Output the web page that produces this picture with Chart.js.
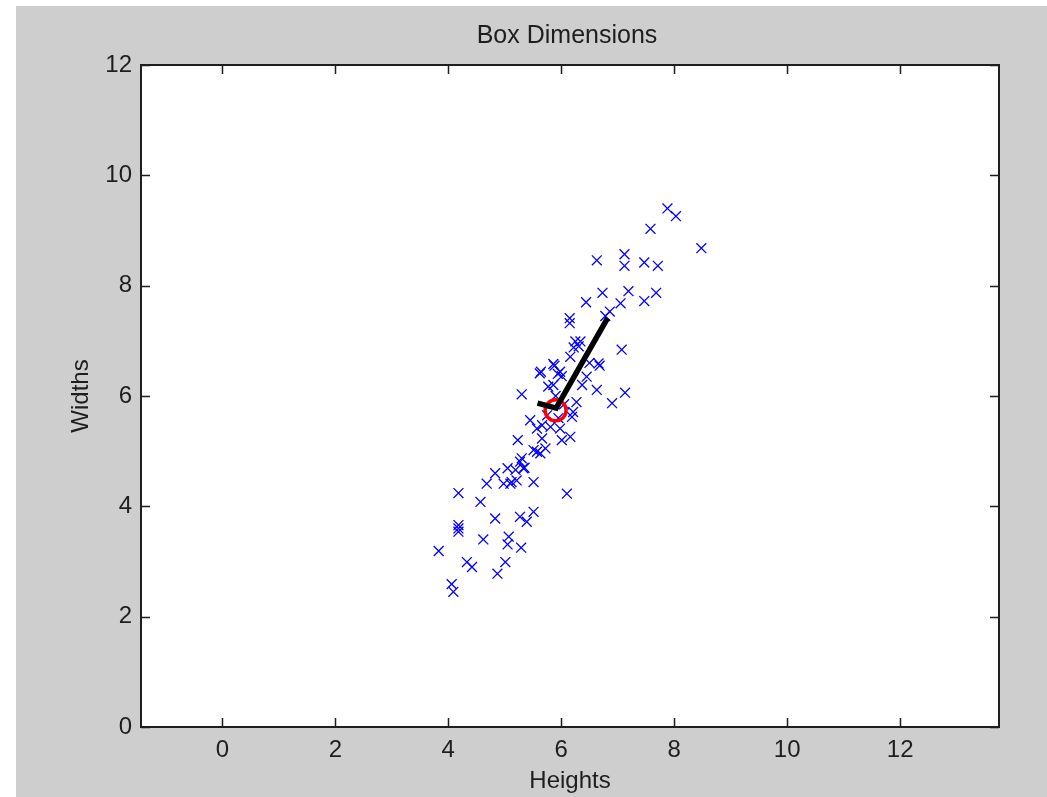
<!DOCTYPE html>
<html>
<head>
<meta charset="utf-8">
<title>Box Dimensions</title>
<script src="https://cdn.jsdelivr.net/npm/chart.js@4.4.1/dist/chart.umd.min.js"></script>
<style>
  html, body { margin: 0; padding: 0; background: #ffffff; }
  #wrap { position: absolute; left: 16px; top: 6px; width: 1031px; height: 791px; background: #cecece; }
</style>
</head>
<body>
<div id="wrap"><canvas id="boxChart" width="1031" height="791"></canvas></div>
<script>
const heights = [7.88, 8.03, 7.58, 8.48, 6.63, 7.12, 7.12, 7.47, 7.71, 6.73, 7.19, 7.68, 6.44, 7.47, 7.05,
  6.86, 6.15, 6.15, 6.78, 6.25, 6.34, 6.31, 6.22, 6.16, 7.07, 5.86, 5.88, 5.64, 5.98, 6.66, 6.68, 6.01,
  5.62, 5.94, 5.86, 5.77, 6.37, 6.63, 7.13, 5.30, 6.90, 6.27, 6.21, 6.19, 5.45, 5.57, 5.66, 5.81, 5.98,
  6.16, 6.01, 5.66, 5.23, 5.72, 5.51, 5.63, 5.30, 5.57, 5.27, 5.05, 4.83, 5.19, 5.33, 5.10, 5.12, 5.21,
  4.98, 4.68, 5.51, 4.18, 6.10, 4.57, 4.83, 5.51, 5.27, 5.39, 4.18, 4.18, 4.18, 4.62, 5.07, 5.05, 5.29,
  3.83, 4.33, 4.42, 5.01, 4.87, 4.06, 4.09, 5.95, 5.75, 6.05, 5.90, 5.35, 6.45, 6.50];
const widths = [9.40, 9.26, 9.03, 8.68, 8.46, 8.57, 8.36, 8.42, 8.36, 7.87, 7.90, 7.87, 7.70, 7.72, 7.68,
  7.53, 7.41, 7.32, 7.45, 6.99, 6.99, 6.90, 6.88, 6.71, 6.84, 6.58, 6.55, 6.44, 6.44, 6.59, 6.55, 6.36,
  6.41, 6.40, 6.20, 6.17, 6.20, 6.11, 6.06, 6.03, 5.87, 5.89, 5.71, 5.62, 5.56, 5.41, 5.47, 5.44, 5.41,
  5.26, 5.20, 5.23, 5.20, 5.05, 5.02, 4.96, 4.87, 4.99, 4.81, 4.69, 4.60, 4.66, 4.69, 4.41, 4.44, 4.47,
  4.41, 4.41, 4.44, 4.24, 4.23, 4.08, 3.78, 3.90, 3.81, 3.72, 3.66, 3.60, 3.54, 3.40, 3.45, 3.31, 3.25,
  3.19, 2.99, 2.90, 2.99, 2.78, 2.59, 2.45, 5.60, 5.65, 5.85, 6.00, 4.70, 6.35, 6.60];

// mean point and principal direction line
const meanX = [5.90];
const meanY = [5.74];
const axisLineX = [5.58, 5.91, 6.82];
const axisLineY = [5.87, 5.78, 7.41];

const xTicks = [0, 2, 4, 6, 8, 10, 12];
const yTicks = [0, 2, 4, 6, 8, 10, 12];

const chartTitle = 'Box Dimensions';
const fontFamily = '"Liberation Sans", Arial, sans-serif';
const inkColor = '#1e1e1e';

// white axes background
const axesBackground = {
    id: 'axesBackground',
    beforeDraw(chart) {
        const a = chart.chartArea;
        chart.ctx.save();
        chart.ctx.fillStyle = '#ffffff';
        chart.ctx.fillRect(a.left, a.top, a.right - a.left, a.bottom - a.top);
        chart.ctx.restore();
    }
};

// MATLAB style frame with inward ticks, plus title centred on the axes
const frameTicks = {
    id: 'frameTicks',
    afterDraw(chart) {
        const ctx = chart.ctx;
        const area = chart.chartArea;
        const xs = chart.scales.x;
        const ys = chart.scales.y;
        const len = 9;
        ctx.save();
        ctx.strokeStyle = inkColor;
        ctx.lineWidth = 1.5;
        ctx.beginPath();
        xTicks.forEach(v => {
            const px = Math.round(xs.getPixelForValue(v)) + 0.5;
            ctx.moveTo(px, area.bottom);
            ctx.lineTo(px, area.bottom - len);
            ctx.moveTo(px, area.top);
            ctx.lineTo(px, area.top + len);
        });
        yTicks.forEach(v => {
            const py = Math.round(ys.getPixelForValue(v)) + 0.5;
            ctx.moveTo(area.left, py);
            ctx.lineTo(area.left + len, py);
            ctx.moveTo(area.right, py);
            ctx.lineTo(area.right - len, py);
        });
        ctx.stroke();
        ctx.lineWidth = 2;
        ctx.strokeRect(area.left, area.top, area.right - area.left, area.bottom - area.top);

        ctx.fillStyle = inkColor;
        ctx.font = '25px ' + fontFamily;
        ctx.textAlign = 'center';
        ctx.textBaseline = 'middle';
        ctx.fillText(chartTitle, (area.left + area.right) / 2 - 3, 30);
        ctx.restore();
    }
};

document.addEventListener('DOMContentLoaded', () => {
    const ctx = document.getElementById('boxChart').getContext('2d');

    const samplePoints = heights.map((h, i) => ({ x: h, y: widths[i] }));
    const meanPoints = meanX.map((m, i) => ({ x: m, y: meanY[i] }));
    const linePoints = axisLineX.map((v, i) => ({ x: v, y: axisLineY[i] }));

    new Chart(ctx, {
        type: 'scatter',
        data: {
            datasets: [
                {
                    label: 'Direction',
                    type: 'line',
                    data: linePoints,
                    borderColor: '#000000',
                    borderWidth: 5.5,
                    pointRadius: 0,
                    fill: false,
                    tension: 0,
                    order: 0
                },
                {
                    label: 'Mean',
                    data: meanPoints,
                    pointStyle: 'circle',
                    pointRadius: 10.5,
                    borderWidth: 3.5,
                    borderColor: '#ff0000',
                    backgroundColor: 'rgba(0,0,0,0)',
                    order: 1
                },
                {
                    label: 'Boxes',
                    data: samplePoints,
                    pointStyle: 'crossRot',
                    pointRadius: 7,
                    borderWidth: 1.3,
                    borderColor: '#0000ff',
                    backgroundColor: '#0000ff',
                    order: 2
                }
            ]
        },
        options: {
            responsive: false,
            animation: false,
            layout: { padding: { left: 0, right: 48, top: 59, bottom: 0 } },
            plugins: {
                legend: { display: false },
                tooltip: { enabled: false },
                title: { display: false }
            },
            scales: {
                x: {
                    type: 'linear',
                    min: -1.44,
                    max: 13.75,
                    afterBuildTicks: scale => { scale.ticks = xTicks.map(v => ({ value: v })); },
                    afterFit: scale => { scale.height = 70; },
                    grid: { display: false, drawTicks: false },
                    border: { display: false },
                    ticks: { color: inkColor, padding: 9, font: { family: fontFamily, size: 24 } },
                    title: {
                        display: true,
                        text: 'Heights',
                        color: inkColor,
                        font: { family: fontFamily, size: 24 },
                        padding: { top: 0, bottom: 1 }
                    }
                },
                y: {
                    type: 'linear',
                    min: 0,
                    max: 12,
                    afterBuildTicks: scale => { scale.ticks = yTicks.map(v => ({ value: v })); },
                    afterFit: scale => { scale.width = 125; },
                    grid: { display: false, drawTicks: false },
                    border: { display: false },
                    ticks: { color: inkColor, padding: 9, font: { family: fontFamily, size: 24 } },
                    title: {
                        display: true,
                        text: 'Widths',
                        color: inkColor,
                        font: { family: fontFamily, size: 24 },
                        padding: { top: 51, bottom: 0 }
                    }
                }
            }
        },
        plugins: [axesBackground, frameTicks]
    });
});
</script>
</body>
</html>
